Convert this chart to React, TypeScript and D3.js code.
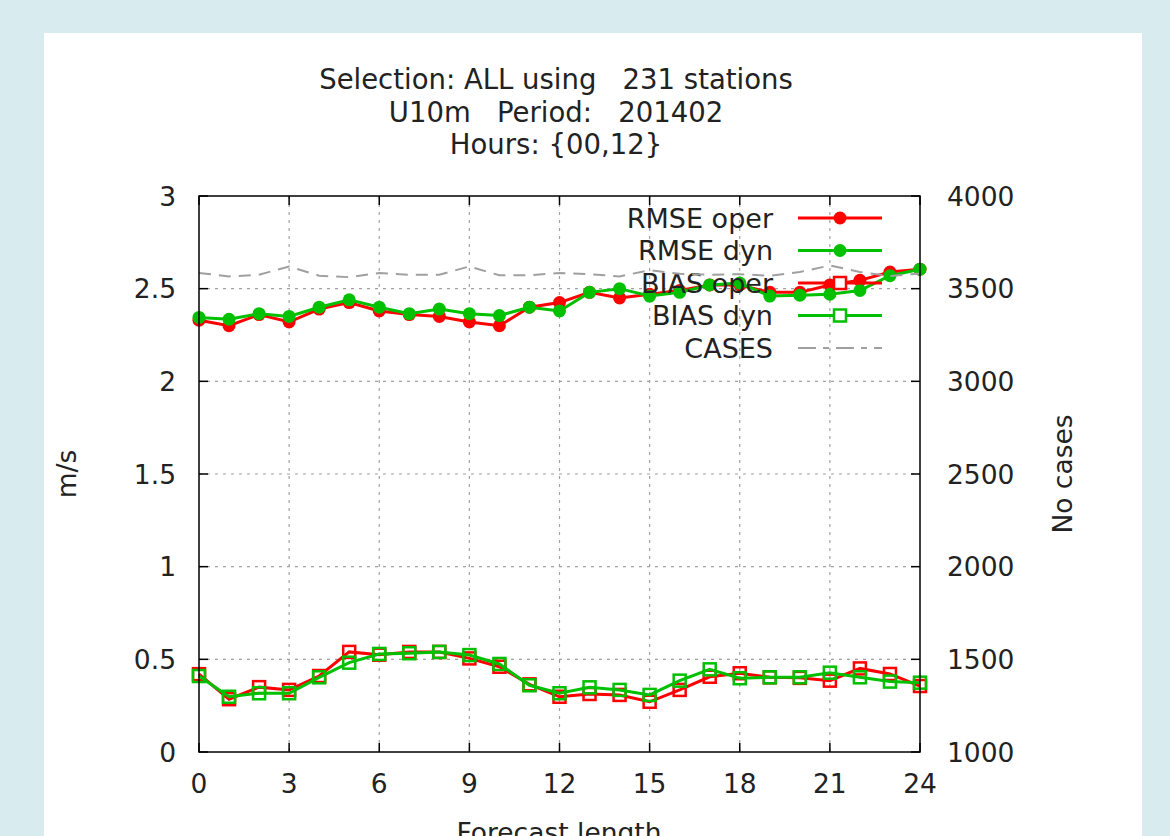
import React, { useEffect } from 'react';
import * as d3 from 'd3';

const hours = d3.range(0, 25);

const rmseOper = [2.33, 2.30, 2.36, 2.32, 2.39, 2.425, 2.38, 2.36, 2.35, 2.32, 2.30, 2.40, 2.425,
  2.48, 2.45, 2.47, 2.49, 2.52, 2.52, 2.48, 2.48, 2.52, 2.545, 2.59, 2.605];
const rmseDyn = [2.345, 2.335, 2.365, 2.35, 2.40, 2.44, 2.40, 2.365, 2.39, 2.365, 2.355, 2.40, 2.38,
  2.48, 2.50, 2.46, 2.48, 2.52, 2.53, 2.46, 2.465, 2.47, 2.49, 2.57, 2.605];
const biasOper = [0.42, 0.285, 0.35, 0.335, 0.41, 0.54, 0.525, 0.54, 0.54, 0.505, 0.46, 0.365, 0.298,
  0.313, 0.308, 0.271, 0.335, 0.406, 0.425, 0.403, 0.40, 0.385, 0.451, 0.421, 0.356];
const biasDyn = [0.41, 0.298, 0.317, 0.317, 0.403, 0.482, 0.529, 0.533, 0.54, 0.523, 0.475, 0.36, 0.317,
  0.349, 0.335, 0.308, 0.385, 0.446, 0.398, 0.403, 0.403, 0.428, 0.403, 0.38, 0.374];
const cases = [3585, 3566, 3575, 3620, 3570, 3562, 3585, 3575, 3575, 3620, 3572, 3572, 3585,
  3578, 3566, 3600, 3580, 3575, 3578, 3570, 3590, 3625, 3590, 3568, 3582];

const xTicks = [0, 3, 6, 9, 12, 15, 18, 21, 24];
const yTicks = [0, 0.5, 1, 1.5, 2, 2.5, 3];
const y2Ticks = [1000, 1500, 2000, 2500, 3000, 3500, 4000];
const titleLines = ['Selection: ALL using   231 stations', 'U10m   Period:   201402', 'Hours: {00,12}'];

const RED = '#ff0000';
const GREEN = '#00c000';
const GREY = '#a0a0a0';
const FONT = '"DejaVu Sans", sans-serif';

const App = () => {
  useEffect(() => {
    const W = 1170;
    const H = 836;
    const left = 199, right = 920, top = 196, bottom = 752;

    d3.select('#chart').selectAll('*').remove();

    const svg = d3
      .select('#chart')
      .append('svg')
      .attr('width', W)
      .attr('height', H)
      .style('position', 'absolute')
      .style('left', 0)
      .style('top', 0)
      .style('font-family', FONT);

    svg.append('rect').attr('width', W).attr('height', H).attr('fill', '#d8ebee');
    svg.append('rect').attr('x', 44).attr('y', 33).attr('width', 1098).attr('height', H - 33).attr('fill', '#fff');

    const x = d3.scaleLinear().domain([0, 24]).range([left, right]);
    const y = d3.scaleLinear().domain([0, 3]).range([bottom, top]);
    const y2 = d3.scaleLinear().domain([1000, 4000]).range([bottom, top]);

    // title
    svg
      .append('g')
      .selectAll('text')
      .data(titleLines)
      .enter()
      .append('text')
      .attr('x', 556)
      .attr('y', (d, i) => 89 + i * 32.5)
      .attr('text-anchor', 'middle')
      .attr('font-size', 27.5)
      .attr('fill', '#222')
      .style('white-space', 'pre')
      .text((d) => d);

    // grid
    const grid = svg.append('g').attr('stroke', GREY).attr('stroke-width', 1.2).attr('stroke-dasharray', '3,5');
    xTicks.slice(1, -1).forEach((t) => {
      grid.append('line').attr('x1', x(t)).attr('x2', x(t)).attr('y1', top).attr('y2', bottom);
    });
    yTicks.slice(1, -1).forEach((t) => {
      grid.append('line').attr('x1', left).attr('x2', right).attr('y1', y(t)).attr('y2', y(t));
    });

    // ticks
    const ticks = svg.append('g').attr('stroke', '#000').attr('stroke-width', 1.5);
    xTicks.forEach((t) => {
      ticks.append('line').attr('x1', x(t)).attr('x2', x(t)).attr('y1', bottom).attr('y2', bottom - 9);
      ticks.append('line').attr('x1', x(t)).attr('x2', x(t)).attr('y1', top).attr('y2', top + 9);
    });
    yTicks.forEach((t) => {
      ticks.append('line').attr('x1', left).attr('x2', left + 9).attr('y1', y(t)).attr('y2', y(t));
    });
    y2Ticks.forEach((t) => {
      ticks.append('line').attr('x1', right).attr('x2', right - 9).attr('y1', y2(t)).attr('y2', y2(t));
    });

    const labels = svg.append('g').attr('font-size', 26.5).attr('fill', '#222');
    xTicks.forEach((t) => {
      labels.append('text').attr('x', x(t)).attr('y', 793).attr('text-anchor', 'middle').text(t);
    });
    yTicks.forEach((t) => {
      labels.append('text').attr('x', 176).attr('y', y(t)).attr('dy', '0.36em').attr('text-anchor', 'end').text(t);
    });
    y2Ticks.forEach((t) => {
      labels.append('text').attr('x', 947).attr('y', y2(t)).attr('dy', '0.36em').text(t);
    });

    labels.append('text').attr('transform', 'translate(76,474) rotate(-90)').attr('text-anchor', 'middle').text('m/s');
    labels.append('text').attr('transform', 'translate(1072,474) rotate(-90)').attr('text-anchor', 'middle').text('No cases');
    labels.append('text').attr('x', 559).attr('y', 842).attr('text-anchor', 'middle').text('Forecast length');

    const line = d3
      .line<number>()
      .x((d, i) => x(hours[i]))
      .y((d) => y(d));

    const drawSeries = (vals: number[], color: string, marker: 'circle' | 'square') => {
      const g = svg.append('g');
      g.append('path').attr('d', line(vals)).attr('fill', 'none').attr('stroke', color).attr('stroke-width', 3);
      vals.forEach((v, i) => {
        if (marker === 'circle') {
          g.append('circle').attr('cx', x(hours[i])).attr('cy', y(v)).attr('r', 6.5).attr('fill', color);
        } else {
          g.append('rect')
            .attr('x', x(hours[i]) - 6)
            .attr('y', y(v) - 6)
            .attr('width', 12)
            .attr('height', 12)
            .attr('fill', 'none')
            .attr('stroke', color)
            .attr('stroke-width', 2.5);
        }
      });
    };

    // legend entries
    const legend = [
      { name: 'RMSE oper', color: RED, marker: 'circle' },
      { name: 'RMSE dyn', color: GREEN, marker: 'circle' },
      { name: 'BIAS oper', color: RED, marker: 'square' },
      { name: 'BIAS dyn', color: GREEN, marker: 'square' },
      { name: 'CASES', color: GREY, marker: 'none' },
    ];

    drawSeries(rmseOper, RED, 'circle');
    drawSeries(rmseDyn, GREEN, 'circle');

    const key = svg.append('g');
    legend.forEach((d, i) => {
      const ly = 218 + i * 32.5;
      key.append('text').attr('x', 773).attr('y', ly).attr('dy', '0.36em').attr('text-anchor', 'end')
        .attr('font-size', 27).attr('fill', '#222').text(d.name);
      if (d.marker === 'none') {
        key.append('line').attr('x1', 798).attr('x2', 882).attr('y1', ly).attr('y2', ly)
          .attr('stroke', d.color).attr('stroke-width', 2).attr('stroke-dasharray', '18,7,6,7');
        return;
      }
      key.append('line').attr('x1', 798).attr('x2', 882).attr('y1', ly).attr('y2', ly)
        .attr('stroke', d.color).attr('stroke-width', 3);
      if (d.marker === 'circle') {
        key.append('circle').attr('cx', 840).attr('cy', ly).attr('r', 6.5).attr('fill', d.color);
      } else {
        key.append('rect').attr('x', 834).attr('y', ly - 6).attr('width', 12).attr('height', 12)
          .attr('fill', '#fff').attr('stroke', d.color).attr('stroke-width', 2.5);
      }
    });

    drawSeries(biasOper, RED, 'square');
    drawSeries(biasDyn, GREEN, 'square');

    const casesLine = d3
      .line<number>()
      .x((d, i) => x(hours[i]))
      .y((d) => y2(d));
    svg.append('path').attr('d', casesLine(cases)).attr('fill', 'none').attr('stroke', GREY)
      .attr('stroke-width', 2).attr('stroke-dasharray', '12,8');

    // frame
    svg.append('rect').attr('x', left).attr('y', top).attr('width', right - left).attr('height', bottom - top)
      .attr('fill', 'none').attr('stroke', '#000').attr('stroke-width', 1.5);
  }, []);

  return <div id="chart"></div>;
};

export default App;
